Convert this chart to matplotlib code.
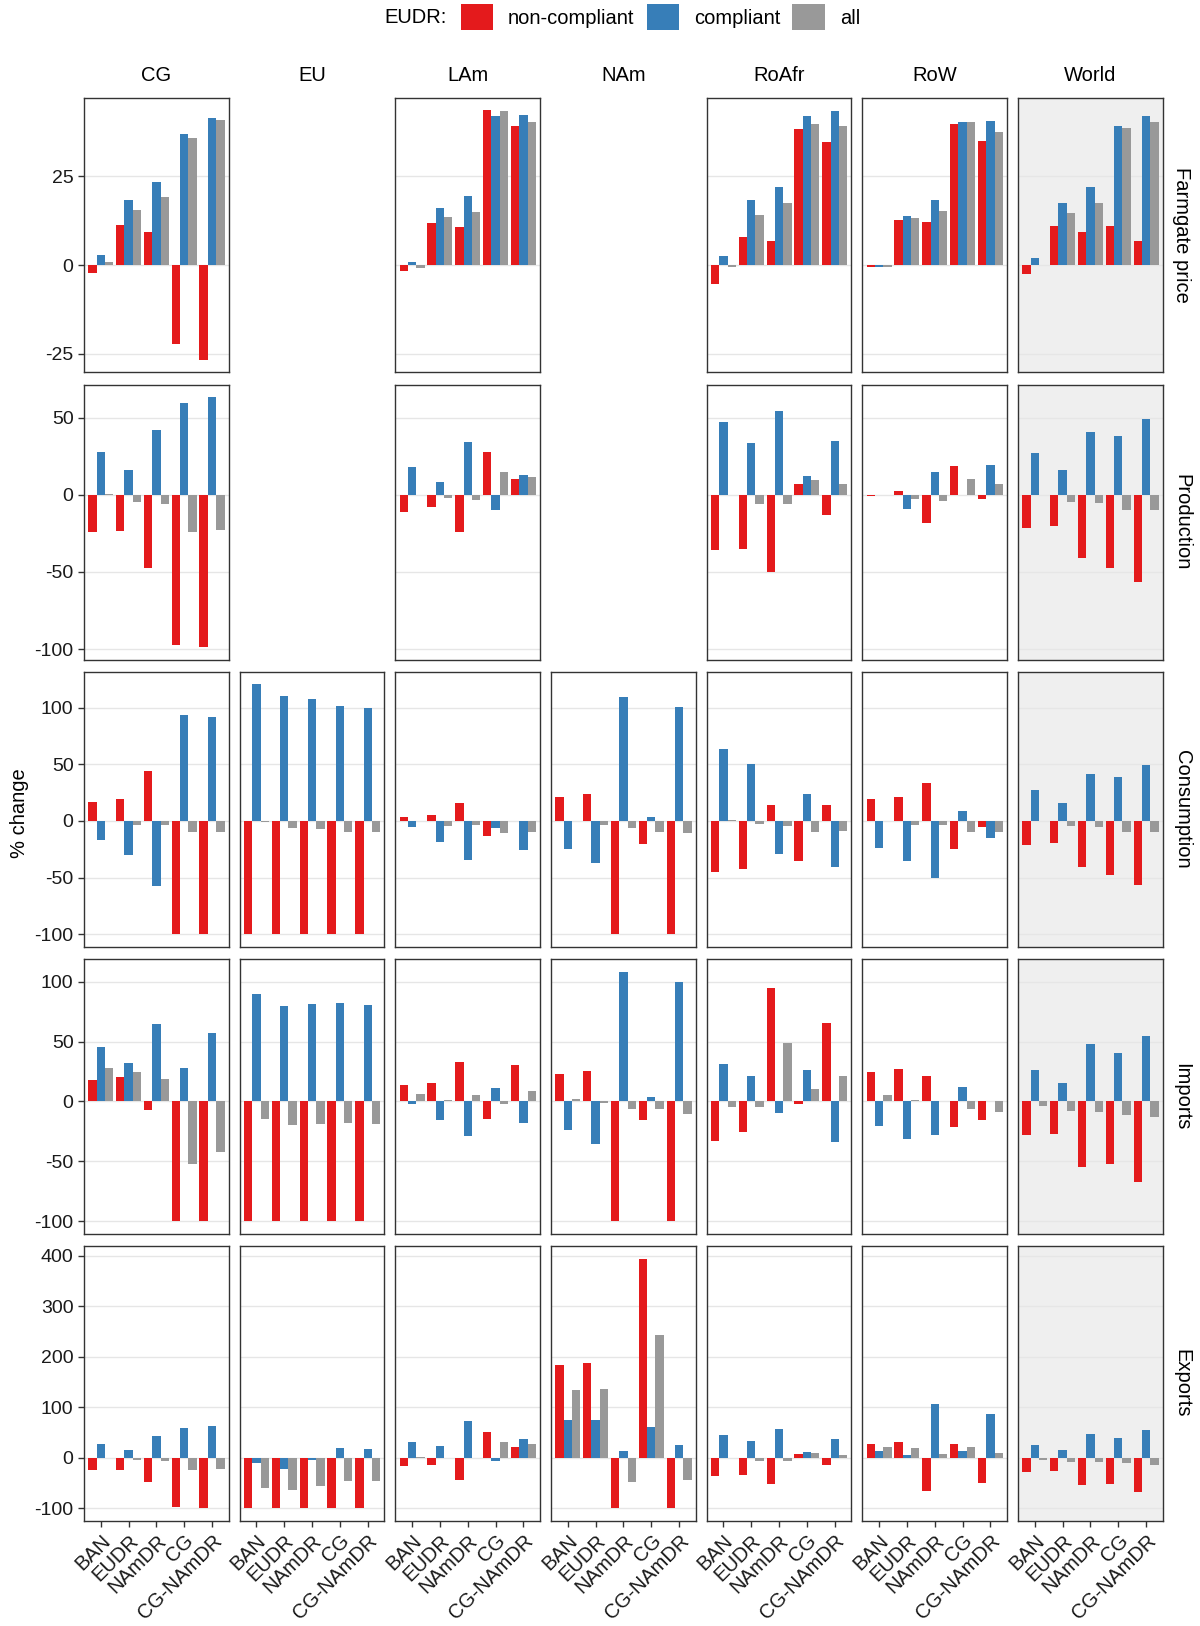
import numpy as np
import matplotlib.pyplot as plt
from matplotlib.patches import Patch
from matplotlib.ticker import MultipleLocator

plt.rcParams['font.family'] = ['Liberation Sans', 'DejaVu Sans']
plt.rcParams['axes.unicode_minus'] = False

regions = ['CG', 'EU', 'LAm', 'NAm', 'RoAfr', 'RoW', 'World']
scenarios = ['BAN', 'EUDR', 'NAmDR', 'CG', 'CG-NAmDR']
variables = ['Farmgate price', 'Production', 'Consumption', 'Imports', 'Exports']
groups = ['non-compliant', 'compliant', 'all']
colors = ['#E41A1C', '#377EB8', '#999999']

# % change per region (one list of 5 scenarios each), None = no panel
price_nc = [[-2.2, 11.4, 9.3, -22.2, -26.7], None, [-1.7, 11.9, 10.8, 43.7, 39.3], None,
            [-5.4, 7.9, 6.7, 38.3, 34.6], [-0.6, 12.8, 12.1, 39.9, 34.9], [-2.4, 10.9, 9.3, 11.1, 6.7]]
price_c = [[2.8, 18.4, 23.5, 36.9, 41.6], None, [0.8, 16.0, 19.6, 42.1, 42.4], None,
           [2.5, 18.3, 22.1, 41.9, 43.5], [-0.4, 13.9, 18.3, 40.4, 40.5], [2.1, 17.5, 22.1, 39.1, 42.1]]
price_all = [[0.8, 15.4, 19.3, 35.9, 40.9], None, [-0.7, 13.6, 15.1, 43.3, 40.3], None,
             [-0.6, 14.1, 17.4, 39.8, 39.3], [-0.5, 13.3, 15.3, 40.2, 37.6], [0.1, 14.6, 17.6, 38.6, 40.2]]

prod_nc = [[-24.1, -23.2, -47.5, -97.4, -98.7], None, [-10.8, -8.0, -24.1, 28.0, 10.5], None,
           [-35.5, -35.1, -50.1, 7.3, -13.3], [-0.9, 2.6, -18.5, 18.9, -2.6], [-21.5, -20.0, -41.1, -47.7, -56.6]]
prod_c = [[27.7, 16.3, 42.2, 59.4, 63.4], None, [18.1, 8.6, 34.2, -9.5, 12.9], None,
          [47.3, 34.0, 54.2, 12.3, 35.1], [0.2, -9.0, 14.6, 0.1, 19.6], [27.3, 15.9, 41.1, 38.5, 49.5]]
prod_all = [[0.3, -4.7, -5.6, -24.1, -22.6], None, [0.2, -1.9, -3.2, 14.6, 11.4], None,
            [0.2, -5.8, -6.2, 9.5, 6.9], [0.1, -2.4, -3.9, 10.5, 7.1], [0.2, -4.3, -5.2, -9.9, -10.1]]

cons_nc = [[16.4, 19.6, 44.2, -100, -100], [-100, -100, -100, -100, -100], [3.2, 5.3, 16.1, -13.2, -0.5],
           [21.1, 23.7, -100, -20.8, -100], [-44.8, -42.2, 14.3, -35.4, 13.8], [19.6, 21.4, 33.4, -24.9, -5.3],
           [-21.7, -19.9, -40.7, -47.7, -56.5]]
cons_c = [[-17.0, -29.9, -57.7, 93.4, 91.4], [120.6, 110.7, 108.1, 101.6, 99.6], [-5.3, -18.7, -34.8, -6.1, -25.8],
          [-24.6, -36.9, 109.5, 3.5, 100.4], [63.8, 50.1, -29.0, 23.7, -40.4], [-24.3, -35.7, -50.4, 8.8, -15.5],
          [27.2, 16.1, 41.0, 38.4, 49.2]]
cons_all = [[-0.5, -3.2, -3.2, -9.4, -10.2], [-0.9, -5.9, -6.7, -9.4, -10.2], [-0.3, -4.1, -3.5, -10.5, -9.4],
            [-0.5, -3.5, -6.4, -9.7, -10.5], [0.9, -2.9, -4.1, -10.2, -8.8], [-0.3, -3.5, -3.2, -9.7, -9.7],
            [-0.3, -4.4, -5.3, -10.0, -10.2]]

imp_nc = [[17.7, 20.2, -7.5, -100, -100], [-100, -100, -100, -100, -100], [13.8, 15.2, 33.2, -14.4, 30.7],
          [22.9, 25.7, -100, -15.2, -100], [-32.6, -25.7, 94.9, -2.2, 65.6], [24.9, 26.8, 21.0, -21.0, -15.5],
          [-27.9, -26.8, -54.8, -52.6, -67.2]]
imp_c = [[45.6, 31.8, 64.7, 28.2, 57.5], [89.9, 79.7, 81.6, 82.4, 80.8], [-1.9, -15.5, -28.5, 11.3, -18.3],
         [-23.5, -35.1, 108.4, 4.1, 99.6], [31.0, 21.3, -9.7, 26.0, -33.5], [-20.2, -31.5, -27.9, 11.9, 0.3],
         [26.6, 15.2, 47.6, 40.1, 55.0]]
imp_all = [[27.9, 24.3, 19.1, -52.6, -42.0], [-14.7, -19.4, -18.5, -18.0, -19.1], [6.6, 1.4, 5.0, -2.5, 8.6],
           [2.2, -1.4, -6.6, -6.4, -10.5], [-4.4, -4.7, 48.4, 10.5, 21.6], [5.0, 1.4, 0.3, -6.4, -8.6],
           [-3.6, -7.7, -9.1, -11.3, -13.0]]

exp_nc = [[-24.3, -23.6, -48.6, -97.1, -98.4], [-100, -100, -100, -100, -100], [-16.4, -13.1, -42.7, 51.2, 22.3],
          [184.4, 188.3, -100, 394.4, -100], [-34.8, -34.1, -51.2, 8.5, -13.8], [27.6, 30.8, -66.3, 26.9, -50.5],
          [-28.2, -26.2, -54.5, -52.5, -67.6]]
exp_c = [[27.6, 16.4, 42.7, 58.4, 63.0], [-9.2, -21.0, -3.9, 20.3, 18.4], [32.2, 24.3, 74.1, -5.2, 36.7],
         [75.5, 74.8, 14.4, 61.7, 24.9], [45.9, 33.5, 57.1, 12.5, 37.4], [14.4, 6.6, 107.6, 14.4, 87.9],
         [26.2, 15.7, 47.9, 40.0, 54.5]]
exp_all = [[0.5, -4.6, -5.9, -24.3, -22.3], [-59.1, -64.3, -56.4, -45.3, -46.6], [1.0, 0.8, 0.5, 30.8, 27.6],
           [135.2, 137.1, -48.6, 244.1, -42.7], [0.5, -5.2, -5.2, 9.8, 6.6], [21.7, 19.7, 8.5, 21.7, 9.2],
           [-3.3, -7.2, -8.5, -10.5, -13.1]]

data = {
    'Farmgate price': (price_nc, price_c, price_all),
    'Production': (prod_nc, prod_c, prod_all),
    'Consumption': (cons_nc, cons_c, cons_all),
    'Imports': (imp_nc, imp_c, imp_all),
    'Exports': (exp_nc, exp_c, exp_all),
}
ysteps = [25, 50, 50, 50, 100]

fig, axes = plt.subplots(5, 7, figsize=(12, 16.26), dpi=100, sharex=True)
fig.subplots_adjust(left=0.07, right=0.969, top=0.940, bottom=0.0646,
                    wspace=0.076, hspace=0.045)

x = np.arange(len(scenarios))
w = 0.3
for i, var in enumerate(variables):
    series = data[var]
    vals = [v for s in series for r in s if r is not None for v in r]
    lo, hi = min(vals), max(vals)
    pad = 0.05 * (hi - lo)
    for j, reg in enumerate(regions):
        ax = axes[i, j]
        if series[0][j] is None:
            ax.set_axis_off()
            continue
        for k, s in enumerate(series):
            ax.bar(x + (k - 1) * w, s[j], width=w, color=colors[k], zorder=2)
        ax.set_xlim(-0.6, len(scenarios) - 0.4)
        ax.set_ylim(lo - pad, hi + pad)
        ax.yaxis.set_major_locator(MultipleLocator(ysteps[i]))
        ax.grid(axis='y', color='#E6E6E6', lw=1.0, zorder=0)
        ax.set_axisbelow(True)
        if reg == 'World':
            ax.set_facecolor('#EFEFEF')
        for sp in ax.spines.values():
            sp.set_color('#333333')
            sp.set_linewidth(1.0)
        ax.tick_params(colors='#333333', labelcolor='#1A1A1A', labelsize=14,
                       length=4, width=1)
        if j > 0:
            ax.tick_params(left=False, labelleft=False)
        if i < 4:
            ax.tick_params(bottom=False, labelbottom=False)
        else:
            ax.set_xticks(x)
            ax.set_xticklabels(scenarios, rotation=45, ha='right', va='top',
                               rotation_mode='anchor', fontsize=14.5)

# strip labels
for j, reg in enumerate(regions):
    pos = axes[4, j].get_position()
    fig.text((pos.x0 + pos.x1) / 2, 0.9533, reg, ha='center', va='center', fontsize=14.5)
for i, var in enumerate(variables):
    pos = axes[i, 6].get_position()
    fig.text(0.985, (pos.y0 + pos.y1) / 2, var, ha='center', va='center',
             rotation=-90, fontsize=14.5)

fig.text(0.016, 0.5, '% change', rotation=90, ha='center', va='center', fontsize=14.5)

# legend
fig.text(0.32, 0.9895, 'EUDR:', ha='left', va='center', fontsize=14.5)
handles = [Patch(facecolor=c, edgecolor='none') for c in colors]
fig.legend(handles, groups, loc='center left', bbox_to_anchor=(0.384, 0.9895),
           ncol=3, frameon=False, fontsize=14.5, borderpad=0, borderaxespad=0,
           handlelength=1.6, handleheight=1.65, handletextpad=0.75, columnspacing=0.6)

fig.savefig('out.png', dpi=100)
